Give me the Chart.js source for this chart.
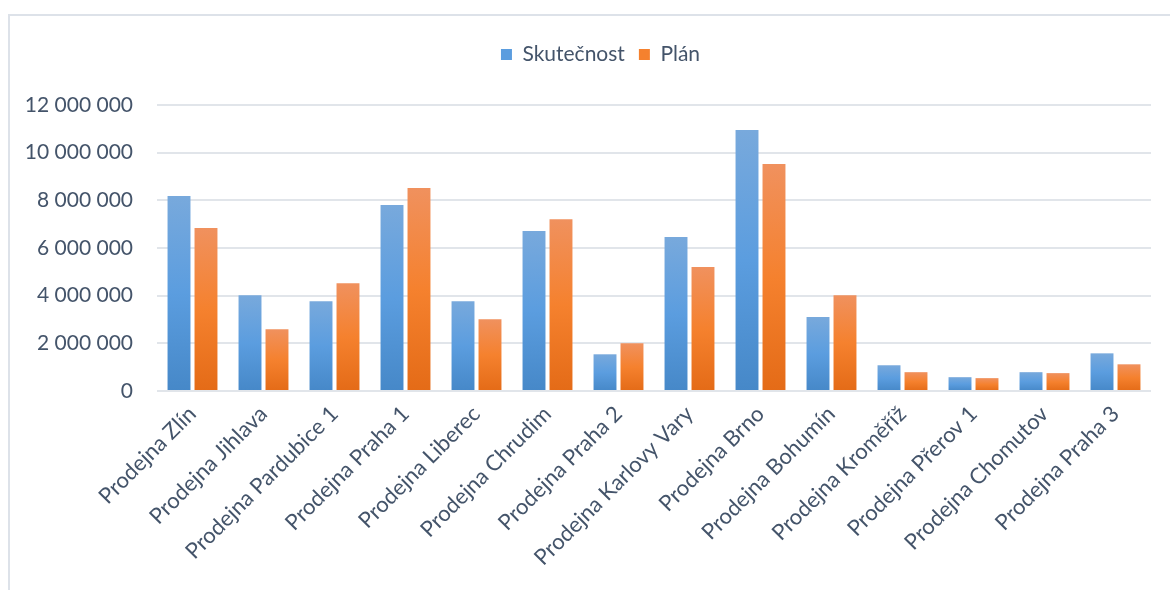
<!DOCTYPE html>
<html>
<head>
<meta charset="utf-8">
<script src="https://cdn.jsdelivr.net/npm/chart.js@4"></script>
<style>
  html, body { margin: 0; padding: 0; background: #fff; }
  #wrap { width: 1170px; height: 590px; position: relative; }
</style>
</head>
<body>
<div id="wrap"><canvas id="salesChart" width="1170" height="590"></canvas></div>
<script>
// Data
const stores = [
  "Prodejna Zlín", "Prodejna Jihlava", "Prodejna Pardubice 1", "Prodejna Praha 1",
  "Prodejna Liberec", "Prodejna Chrudim", "Prodejna Praha 2", "Prodejna Karlovy Vary",
  "Prodejna Brno", "Prodejna Bohumín", "Prodejna Kroměříž", "Prodejna Přerov 1",
  "Prodejna Chomutov", "Prodejna Praha 3"
];
const actual = [8180000, 4020000, 3770000, 7800000, 3770000, 6710000, 1540000,
  6460000, 10950000, 3100000, 1080000, 580000, 790000, 1580000];
const plan = [6840000, 2590000, 4520000, 8520000, 3010000, 7210000, 2000000,
  5200000, 9520000, 4020000, 790000, 540000, 750000, 1120000];
const yTicks = [0, 2000000, 4000000, 6000000, 8000000, 10000000, 12000000];

const textColor = "#44546a";
const fontFamily = "Lato, 'Open Sans', sans-serif";

// vertical gradient from top of the bar to the zero line
function barGradient(stops) {
  return function (context) {
    const chart = context.chart;
    const yScale = chart.scales.y;
    if (!chart.chartArea || !yScale || context.raw === undefined) {
      return stops[1];
    }
    const top = yScale.getPixelForValue(context.raw);
    const bottom = yScale.getPixelForValue(0);
    const g = chart.ctx.createLinearGradient(0, top, 0, bottom);
    g.addColorStop(0, stops[0]);
    g.addColorStop(0.5, stops[1]);
    g.addColorStop(1, stops[2]);
    return g;
  };
}

// Frame around the chart (only top and left edges are visible)
const framePlugin = {
  id: "frame",
  beforeDraw(chart) {
    const ctx = chart.ctx;
    ctx.save();
    ctx.strokeStyle = "#dde2e9";
    ctx.lineWidth = 2;
    ctx.beginPath();
    ctx.moveTo(9, 590);
    ctx.lineTo(9, 15);
    ctx.lineTo(1170, 15);
    ctx.stroke();
    ctx.restore();
  },
};

// extra room between legend and plot, and legend centred on the page
const legendGap = {
  id: "legendGap",
  beforeInit(chart) {
    const origFit = chart.legend.fit;
    chart.legend.fit = function () {
      origFit.bind(chart.legend)();
      this.height += 30;
    };
  },
  afterLayout(chart) {
    chart.legend.left += 25;
    chart.legend.right += 25;
  },
};

new Chart(document.getElementById("salesChart"), {
  type: "bar",
  data: {
    labels: stores,
    datasets: [
      {
        label: "Skutečnost",
        data: actual,
        backgroundColor: barGradient(["#78a9dc", "#5b9ddf", "#4688c8"]),
        categoryPercentage: 0.76,
        barPercentage: 0.85,
      },
      {
        label: "Plán",
        data: plan,
        backgroundColor: barGradient(["#f0915e", "#f5812e", "#e46b17"]),
        categoryPercentage: 0.76,
        barPercentage: 0.85,
      },
    ],
  },
  options: {
    responsive: false,
    animation: false,
    layout: {
      padding: { top: 30, right: 19, left: 0, bottom: 0 },
    },
    plugins: {
      legend: {
        position: "top",
        labels: {
          color: textColor,
          font: { family: fontFamily, size: 21 },
          boxWidth: 11,
          boxHeight: 11,
          padding: 14,
          generateLabels: function (chart) {
            const fills = ["#5b9ddf", "#f5812e"];
            return chart.data.datasets.map(function (ds, i) {
              return {
                text: ds.label,
                fillStyle: fills[i],
                strokeStyle: fills[i],
                lineWidth: 0,
                fontColor: textColor,
                datasetIndex: i,
                hidden: false,
              };
            });
          },
        },
      },
      title: { display: false },
      tooltip: { enabled: false },
    },
    scales: {
      x: {
        grid: { display: false, drawTicks: false },
        border: { display: false },
        ticks: {
          color: textColor,
          font: { family: fontFamily, size: 22 },
          minRotation: 45,
          maxRotation: 45,
          padding: 10,
        },
        afterFit: function (scale) {
          scale.height = 199;
        },
      },
      y: {
        min: 0,
        max: 12000000,
        afterBuildTicks: function (scale) {
          scale.ticks = yTicks.map(function (v) { return { value: v }; });
        },
        grid: { color: "#e1e5ea", lineWidth: 2, drawTicks: false },
        border: { display: false },
        ticks: {
          color: textColor,
          font: { family: fontFamily, size: 21 },
          padding: 24,
          callback: function (value) {
            return value.toString().replace(/\B(?=(\d{3})+(?!\d))/g, " ");
          },
        },
        afterFit: function (scale) {
          scale.width = 157;
        },
      },
    },
  },
  plugins: [legendGap, framePlugin],
});
</script>
</body>
</html>
